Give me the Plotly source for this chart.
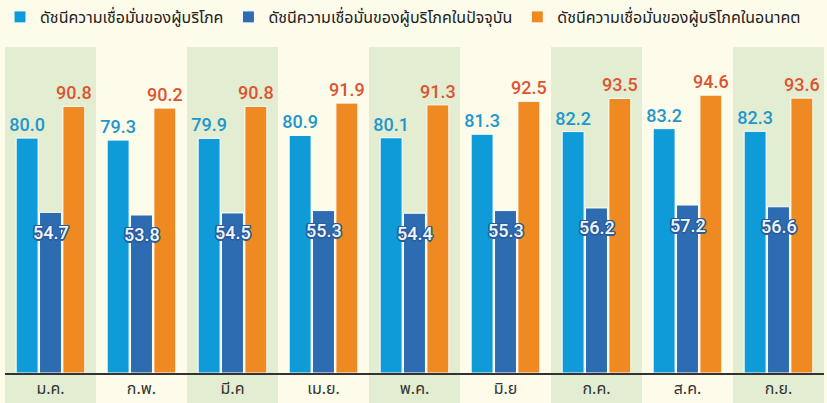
import plotly.graph_objects as go

months = ["ม.ค.", "ก.พ.", "มี.ค", "เม.ย.", "พ.ค.", "มิ.ย", "ก.ค.", "ส.ค.", "ก.ย."]
series_names = [
    "ดัชนีความเชื่อมั่นของผู้บริโภค",
    "ดัชนีความเชื่อมั่นของผู้บริโภคในปัจจุบัน",
    "ดัชนีความเชื่อมั่นของผู้บริโภคในอนาคต",
]
overall = [80.0, 79.3, 79.9, 80.9, 80.1, 81.3, 82.2, 83.2, 82.3]
current = [54.7, 53.8, 54.5, 55.3, 54.4, 55.3, 56.2, 57.2, 56.6]
future = [90.8, 90.2, 90.8, 91.9, 91.3, 92.5, 93.5, 94.6, 93.6]

C_LIGHT = "#0f9bd8"
C_DARK = "#2e6cb2"
C_ORANGE = "#ef8a22"
BG = "#fdfbea"
BAND = "#e2edd1"
NUM_FONT = "Roboto, Liberation Sans, Arial"
THAI_FONT = "Noto Sans Thai, Noto Sans, sans-serif"

fig = go.Figure()
fig.add_trace(go.Bar(
    x=months, y=overall, name=series_names[0],
    marker=dict(color=C_LIGHT, line=dict(color="#ffffff", width=1)),
    text=[f"{v:.1f}" for v in overall], textposition="outside",
    constraintext="none", cliponaxis=False,
    textfont=dict(family=NUM_FONT, size=18, color="#2196cc", weight=500),
))
fig.add_trace(go.Bar(
    x=months, y=current, name=series_names[1],
    marker=dict(color=C_DARK, line=dict(color="#ffffff", width=1)),
))
fig.add_trace(go.Bar(
    x=months, y=future, name=series_names[2],
    marker=dict(color=C_ORANGE, line=dict(color="#ffffff", width=1)),
    text=[f"{v:.1f}" for v in future], textposition="outside",
    constraintext="none", cliponaxis=False,
    textfont=dict(family=NUM_FONT, size=18, color="#dd5430", weight=500),
))

outline = ", ".join(f"{dx}px {dy}px 0 #2a5c9e" for dx, dy in
                    [(1, 1), (-1, -1), (1, -1), (-1, 1), (0, 1.5), (0, -1.5), (1.5, 0), (-1.5, 0)])
for m, v in zip(months, current):
    fig.add_annotation(
        x=m, y=v, text=f"{v:.1f}", showarrow=False, yanchor="middle", yshift=-20,
        font=dict(family=NUM_FONT, size=18, color="#eef6fc", weight=500, shadow=outline),
    )

shapes = []
for i in range(0, len(months), 2):
    shapes.append(dict(
        type="rect", xref="x", yref="paper", x0=i - 0.5, x1=i + 0.5, y0=-0.12, y1=1,
        fillcolor=BAND, line=dict(width=0), layer="below",
    ))

fig.update_layout(
    width=827, height=403,
    margin=dict(l=5, r=3, t=47, b=30),
    paper_bgcolor=BG, plot_bgcolor=BG,
    barmode="group", bargap=0.23, bargroupgap=0.06,
    shapes=shapes,
    showlegend=True,
    legend=dict(
        orientation="h", xref="container", yref="container",
        x=-0.031, y=1.0, xanchor="left", yanchor="top",
        font=dict(family=THAI_FONT, size=16, color="#222222"),
        itemwidth=30, bgcolor="rgba(0,0,0,0)", traceorder="normal",
    ),
    xaxis=dict(
        range=[-0.5, len(months) - 0.5],
        showline=True, linecolor="#333333", linewidth=2,
        ticks="", showgrid=False,
        tickfont=dict(family=THAI_FONT, size=16, color="#333333"),
    ),
    yaxis=dict(range=[0, 111], visible=False, showgrid=False),
)

fig.write_html(
    "out.html",
    config={"displayModeBar": False},
    post_script="document.body.style.margin='0';document.body.style.background='#fdfbea';",
)
